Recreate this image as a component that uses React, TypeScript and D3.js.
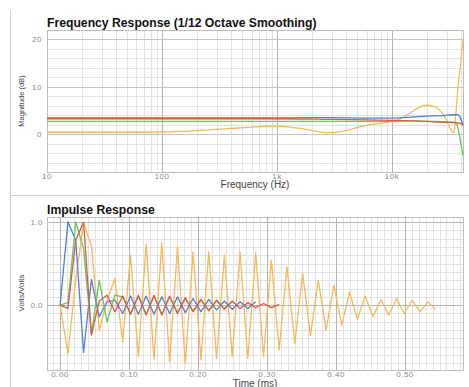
import { useEffect, useRef } from "react";
import * as d3 from "d3";

// Frequency response (Hz, dB)
const blueFreq = [10, 100, 1000, 3000, 6000, 10000, 15000, 20000, 26000, 30000, 35000, 37500, 39000, 40500, 41400];
const blueMag = [3.45, 3.45, 3.45, 3.5, 3.4, 3.4, 3.6, 3.8, 3.9, 4.0, 4.1, 4.1, 3.6, 2.6, 2.0];

const redFreq = [10, 100, 1000, 3000, 6000, 10000, 15000, 20000, 30000, 36000, 39000, 41400];
const redMag = [3.25, 3.25, 3.25, 3.1, 3.0, 2.9, 2.8, 2.7, 2.5, 2.4, 2.3, 1.9];

const greenFreq = [10, 100, 1000, 5000, 10000, 15000, 20000, 30000, 35000, 36500, 38000, 40000, 41400];
const greenMag = [2.7, 2.7, 2.7, 2.7, 2.7, 2.8, 2.7, 2.6, 2.5, 2.2, 0.5, -2.5, -4.5];

const orangeFreq = [10, 20, 50, 100, 150, 200, 300, 450, 700, 1000, 1300, 1700, 2200, 2700, 3200, 4000, 5000, 6500, 8000, 10000, 12000, 14000, 17000, 20000, 23000, 26000, 29000, 31500, 33500, 34600, 35500, 37500, 39500, 41400];
const orangeMag = [0.4, 0.4, 0.4, 0.45, 0.6, 0.75, 1.0, 1.3, 1.6, 1.7, 1.5, 1.1, 0.6, 0.3, 0.35, 0.8, 1.4, 2.0, 2.3, 2.7, 3.3, 4.3, 5.6, 6.1, 5.9, 5.0, 3.5, 1.5, 0.5, 0.3, 3, 10, 15, 20];

const freqTicks = [10, 100, 1000, 10000];
const freqTickLabels = ["10", "100", "1k", "10k"];
const magTicks = [0, 10, 20];

// Impulse response, one value per sample (88.2 kHz)
const SAMPLE_MS = 0.01134;
const blueImp = [0, 1.0, 0.78, -0.57, 0.31, -0.14, 0.04, 0.06, -0.1, 0.11, -0.11, 0.11, -0.11, 0.1, -0.1, 0.1, -0.09, 0.08, -0.08, 0.07, -0.06, 0.05, -0.05, 0.04, -0.04, 0.04];
const redImp = [0, -0.04, 0.78, 1.0, -0.36, 0.05, 0.12, -0.08, 0.11, -0.11, 0.12, -0.12, 0.12, -0.12, 0.11, -0.1, 0.09, -0.08, 0.07, -0.07, 0.06, -0.05, 0.05, -0.04, 0.03, -0.03, 0.02, -0.03, 0.01];
const greenImp = [0, 0.03, 1.0, 0.68, -0.35, 0.3, -0.2, 0.12, 0.1, -0.1, 0.11, -0.11, 0.11, -0.11, 0.1, -0.09, 0.08, -0.07, 0.06, -0.06, 0.05, -0.04, 0.04];
const orangeImp = [0, -0.58, 0.3, 0.98, 0.72, -0.3, 0.05, 0.32, -0.44, 0.6, -0.62, 0.73, -0.65, 0.75, -0.68, 0.7, -0.7, 0.64, -0.66, 0.64, -0.64, 0.6, -0.62, 0.64, -0.64, 0.63, -0.62, 0.54, -0.54, 0.46, -0.46, 0.38, -0.37, 0.3, -0.3, 0.24, -0.24, 0.16, -0.17, 0.11, -0.14, 0.07, -0.12, 0.08, -0.1, 0.06, -0.08, 0.04, -0.05];

const timeTicks = [0, 0.1, 0.2, 0.3, 0.4, 0.5];
const voltTicks = [0, 1];

const COLORS = { blue: "#4f7fd8", red: "#e0574c", green: "#62c95a", orange: "#f6b957" };
const FONT = "'Liberation Sans', Arial, sans-serif";

export default function App() {
  const svgRef = useRef<SVGSVGElement>(null);

  useEffect(() => {
    document.body.style.margin = "0";
    if (!svgRef.current) return;
    const svg = d3.select(svgRef.current);
    svg.selectAll("*").remove();

    svg.append("rect").attr("width", 469).attr("height", 387).attr("fill", "#fff");

    // frame lines
    svg.append("line").attr("x1", 10.5).attr("x2", 10.5).attr("y1", 10).attr("y2", 387).attr("stroke", "#cfcfcf");
    svg.append("line").attr("x1", 10).attr("x2", 469).attr("y1", 195.5).attr("y2", 195.5).attr("stroke", "#cfcfcf");

    // ---------- Frequency response ----------
    const left = 47, right = 463;
    const fTop = 30, fBottom = 172;
    const xF = d3.scaleLog().domain([10, 41400]).range([left, right]);
    const yF = d3.scaleLinear().domain([-8, 22]).range([fBottom, fTop]);

    const fg = svg.append("g");
    const minorF: number[] = [];
    for (let dec = 10; dec <= 10000; dec *= 10) {
      for (let m = 2; m <= 9; m++) if (dec * m < 41400) minorF.push(dec * m);
    }
    fg.selectAll(".fminor").data(minorF).enter().append("line")
      .attr("x1", (d) => Math.round(xF(d)) + 0.5).attr("x2", (d) => Math.round(xF(d)) + 0.5)
      .attr("y1", fTop).attr("y2", fBottom).attr("stroke", "#e2e2e2");
    fg.selectAll(".fhminor").data(d3.range(-8, 23, 2)).enter().append("line")
      .attr("x1", left).attr("x2", right)
      .attr("y1", (d) => Math.round(yF(d)) + 0.5).attr("y2", (d) => Math.round(yF(d)) + 0.5)
      .attr("stroke", "#e2e2e2");
    fg.selectAll(".fmajor").data(freqTicks).enter().append("line")
      .attr("x1", (d) => Math.round(xF(d)) + 0.5).attr("x2", (d) => Math.round(xF(d)) + 0.5)
      .attr("y1", fTop).attr("y2", fBottom).attr("stroke", "#b4b4b4");
    fg.selectAll(".fhmajor").data(magTicks).enter().append("line")
      .attr("x1", left).attr("x2", right)
      .attr("y1", (d) => Math.round(yF(d)) + 0.5).attr("y2", (d) => Math.round(yF(d)) + 0.5)
      .attr("stroke", "#c4c4c4");
    fg.append("rect").attr("x", left + 0.5).attr("y", fTop + 0.5).attr("width", right - left).attr("height", fBottom - fTop)
      .attr("fill", "none").attr("stroke", "#bdbdbd");

    const fLine = d3.line<[number, number]>().x((d) => xF(d[0])).y((d) => yF(d[1])).curve(d3.curveMonotoneX);
    const fSeries: [number[], number[], string][] = [
      [orangeFreq, orangeMag, COLORS.orange],
      [greenFreq, greenMag, COLORS.green],
      [blueFreq, blueMag, COLORS.blue],
      [redFreq, redMag, COLORS.red],
    ];
    fSeries.forEach(([fx, fy, c]) => {
      fg.append("path")
        .datum(fx.map((f, i) => [f, fy[i]] as [number, number]))
        .attr("fill", "none").attr("stroke", c).attr("stroke-width", 1.3)
        .attr("d", fLine);
    });

    fg.selectAll(".fxl").data(freqTicks).enter().append("text")
      .attr("x", (d) => xF(d)).attr("y", 178.5).attr("text-anchor", "middle")
      .style("font-family", FONT).style("font-size", "8px").style("letter-spacing", "0.5px").style("fill", "#888")
      .text((d, i) => freqTickLabels[i]);
    fg.selectAll(".fyl").data(magTicks).enter().append("text")
      .attr("x", 42).attr("y", (d) => yF(d) + 3).attr("text-anchor", "end")
      .style("font-family", FONT).style("font-size", "8px").style("letter-spacing", "0.5px").style("fill", "#888")
      .text((d) => String(d));

    svg.append("text").attr("x", 47).attr("y", 27)
      .style("font-family", FONT).style("font-size", "12.2px").style("font-weight", "bold").style("fill", "#111")
      .text("Frequency Response (1/12 Octave Smoothing)");
    svg.append("text").attr("x", 255).attr("y", 188).attr("text-anchor", "middle")
      .style("font-family", FONT).style("font-size", "10px").style("fill", "#444")
      .text("Frequency (Hz)");
    svg.append("text").attr("transform", `translate(24, ${(fTop + fBottom) / 2}) rotate(-90)`).attr("text-anchor", "middle")
      .style("font-family", FONT).style("font-size", "7.5px").style("fill", "#444")
      .text("Magnitude (dB)");

    // ---------- Impulse response ----------
    const iTop = 217, iBottom = 370;
    const xI = d3.scaleLinear().domain([-0.019, 0.584]).range([left, right]);
    const yI = d3.scaleLinear().domain([-0.78, 1.06]).range([iBottom, iTop]);

    const ig = svg.append("g");
    const minorT = d3.range(-1, 59).map((k) => k / 100);
    ig.selectAll(".iminor").data(minorT).enter().append("line")
      .attr("x1", (d) => Math.round(xI(d)) + 0.5).attr("x2", (d) => Math.round(xI(d)) + 0.5)
      .attr("y1", iTop).attr("y2", iBottom).attr("stroke", "#e2e2e2");
    const minorV = d3.range(-7, 11).map((k) => k / 10);
    ig.selectAll(".ihminor").data(minorV).enter().append("line")
      .attr("x1", left).attr("x2", right)
      .attr("y1", (d) => Math.round(yI(d)) + 0.5).attr("y2", (d) => Math.round(yI(d)) + 0.5)
      .attr("stroke", "#e2e2e2");
    ig.selectAll(".imajor").data(timeTicks).enter().append("line")
      .attr("x1", (d) => Math.round(xI(d)) + 0.5).attr("x2", (d) => Math.round(xI(d)) + 0.5)
      .attr("y1", iTop).attr("y2", iBottom).attr("stroke", "#b4b4b4");
    ig.selectAll(".ihmajor").data(voltTicks).enter().append("line")
      .attr("x1", left).attr("x2", right)
      .attr("y1", (d) => Math.round(yI(d)) + 0.5).attr("y2", (d) => Math.round(yI(d)) + 0.5)
      .attr("stroke", "#b4b4b4");
    ig.append("rect").attr("x", left + 0.5).attr("y", iTop + 0.5).attr("width", right - left).attr("height", iBottom - iTop)
      .attr("fill", "none").attr("stroke", "#bdbdbd");

    const iLine = d3.line<number>().x((d, i) => xI(i * SAMPLE_MS)).y((d) => yI(d));
    const iSeries: [number[], string][] = [
      [orangeImp, COLORS.orange],
      [blueImp, COLORS.blue],
      [greenImp, COLORS.green],
      [redImp, COLORS.red],
    ];
    iSeries.forEach(([vals, c]) => {
      ig.append("path").datum(vals)
        .attr("fill", "none").attr("stroke", c).attr("stroke-width", 1.3).attr("stroke-linejoin", "round")
        .attr("d", iLine);
    });

    ig.selectAll(".ixl").data(timeTicks).enter().append("text")
      .attr("x", (d) => xI(d)).attr("y", 377).attr("text-anchor", "middle")
      .style("font-family", FONT).style("font-size", "8px").style("letter-spacing", "0.5px").style("fill", "#888")
      .text((d) => d.toFixed(2));
    ig.selectAll(".iyl").data(voltTicks).enter().append("text")
      .attr("x", 43).attr("y", (d) => yI(d) + 3).attr("text-anchor", "end")
      .style("font-family", FONT).style("font-size", "8px").style("letter-spacing", "0.5px").style("fill", "#888")
      .text((d) => d.toFixed(1));

    svg.append("text").attr("x", 47).attr("y", 214)
      .style("font-family", FONT).style("font-size", "12.2px").style("font-weight", "bold").style("fill", "#111")
      .text("Impulse Response");
    svg.append("text").attr("x", 255).attr("y", 386.5).attr("text-anchor", "middle")
      .style("font-family", FONT).style("font-size", "10px").style("fill", "#444")
      .text("Time (ms)");
    svg.append("text").attr("transform", `translate(24, 293) rotate(-90)`).attr("text-anchor", "middle")
      .style("font-family", FONT).style("font-size", "8px").style("fill", "#444")
      .text("Volts/Volts");
  }, []);

  return <svg ref={svgRef} width={469} height={387} style={{ display: "block" }} />;
}
